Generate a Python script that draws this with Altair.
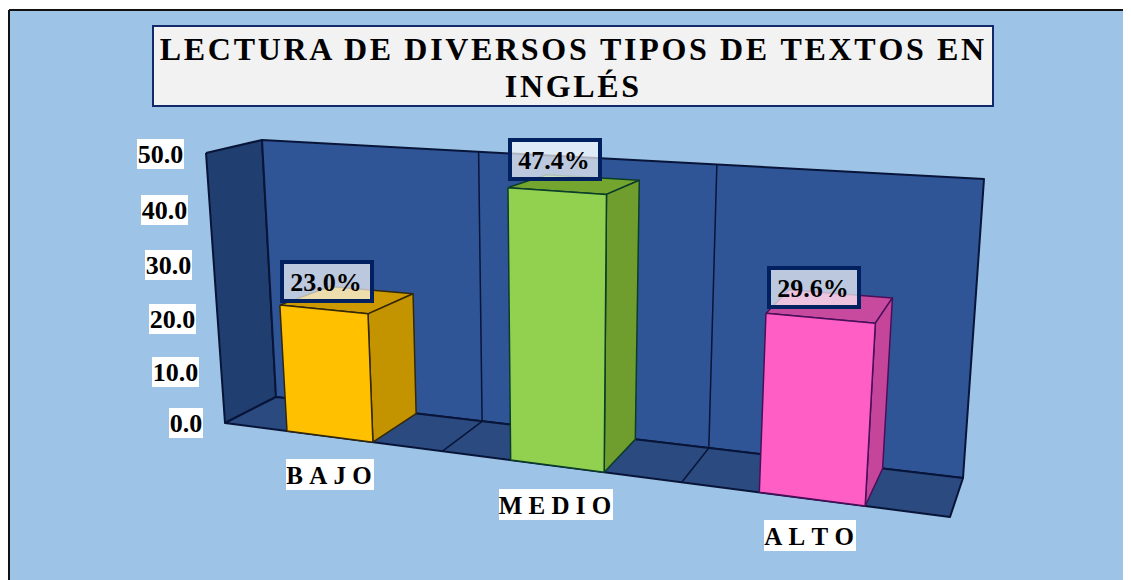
import altair as alt

HAIR = "\u200a"


def spaced(text, letter_gap, word_gap):
    words = text.split(" ")
    return word_gap.join((HAIR * letter_gap).join(w) for w in words)


# ---- chart content -------------------------------------------------
TITLE_LINES = ["LECTURA DE DIVERSOS TIPOS DE TEXTOS EN", "INGLÉS"]
CATEGORIES = ["BAJO", "MEDIO", "ALTO"]
VALUES = [23.0, 47.4, 29.6]
TICKS = [0, 10, 20, 30, 40, 50]
AXIS_MAX = 50.0

# ---- bar colours ---------------------------------------------------
FRONT = ["#ffc000", "#92d050", "#ff5ec4"]
SIDE = ["#c49400", "#6f9d2e", "#c4459a"]
TOP = ["#cc9a00", "#74a52f", "#c74a9f"]
EDGE = ["#33280a", "#0a3d2a", "#4a0f5a"]

# ---- layout of the perspective box, in page pixels -----------------
W, H = 1115, 572
FLOOR_FRONT = ((225, 423), (950, 517))
FLOOR_BACK = ((276, 397), (963, 478))
CEIL_FRONT = ((206, 153), (972, 203))
CEIL_BACK = ((262, 140), (984, 179))
BAR_U = [(0.0855, 0.204), (0.394, 0.523), (0.737, 0.883)]
DIVIDERS_U = [0.30, 0.63]


def lerp(a, b, t):
    return (a[0] + (b[0] - a[0]) * t, a[1] + (b[1] - a[1]) * t)


def project(u, d, v):
    """u along the categories, d in depth, v as data value."""
    base = lerp(lerp(*FLOOR_FRONT, u), lerp(*FLOOR_BACK, u), d)
    ceil = lerp(lerp(*CEIL_FRONT, u), lerp(*CEIL_BACK, u), d)
    return lerp(base, ceil, v / AXIS_MAX * (1 - 0.02 * d))


X = dict(field="x", type="quantitative",
         scale=alt.Scale(domain=[8, 8 + W], nice=False, zero=False), axis=None)
Y = dict(field="y", type="quantitative",
         scale=alt.Scale(domain=[8 + H, 8], nice=False, zero=False), axis=None)


def poly(points, fill, stroke, width=1.5):
    pts = list(points) + [points[0]]
    rows = [{"x": p[0], "y": p[1], "i": i} for i, p in enumerate(pts)]
    return alt.Chart(alt.Data(values=rows)).mark_line(
        fill=fill, stroke=stroke, strokeWidth=width, strokeJoin="round", clip=False
    ).encode(x=alt.X(**X), y=alt.Y(**Y), order=alt.Order("i:Q"))


def seg(a, b, stroke, width=1.5):
    rows = [{"x": a[0], "y": a[1], "i": 0}, {"x": b[0], "y": b[1], "i": 1}]
    return alt.Chart(alt.Data(values=rows)).mark_line(
        stroke=stroke, strokeWidth=width
    ).encode(x=alt.X(**X), y=alt.Y(**Y), order=alt.Order("i:Q"))


def box(x0, x1, y0, y1, fill, stroke=None, sw=0, fo=1.0):
    kw = dict(fill=fill, fillOpacity=fo)
    if stroke:
        kw.update(stroke=stroke, strokeWidth=sw)
    return alt.Chart(alt.Data(values=[{"x": x0, "x2": x1, "y": y0, "y2": y1}])).mark_rect(**kw).encode(
        x=alt.X(**X), x2="x2:Q", y=alt.Y(**Y), y2="y2:Q")


def label(x, y, text, size=26):
    return alt.Chart(alt.Data(values=[{"x": x, "y": y, "t": text}])).mark_text(
        font="Liberation Serif", fontWeight="bold", fontSize=size, color="black",
        align="center", baseline="middle"
    ).encode(x=alt.X(**X), y=alt.Y(**Y), text="t:N")


layers = []
# chart area and frame
layers.append(poly([(9, 10), (1145, 10), (1145, 595), (9, 595)], "#9dc3e6", "#111111", 2))
# title
layers.append(box(153, 993, 26, 106, "#f2f2f2", "#12296b", 2))
WORD_GAP = " " + HAIR * 2
layers.append(label(572, 50, spaced(TITLE_LINES[0], 1, WORD_GAP), 32))
layers.append(label(572, 87, spaced(TITLE_LINES[1], 1, WORD_GAP), 32))

# walls and floor
WALL_LINE = "#081538"
layers.append(poly([project(0, 0, AXIS_MAX), project(0, 1, AXIS_MAX / 0.98), project(0, 1, 0), project(0, 0, 0)], "#203e70", WALL_LINE, 2))
layers.append(poly([project(0, 1, AXIS_MAX / 0.98), project(1, 1, AXIS_MAX / 0.98), project(1, 1, 0), project(0, 1, 0)], "#2f5597", WALL_LINE, 2))
layers.append(poly([project(0, 0, 0), project(0, 1, 0), project(1, 1, 0), project(1, 0, 0)], "#2a4a80", WALL_LINE, 2))
for u in DIVIDERS_U:
    layers.append(seg(project(u, 1, AXIS_MAX / 0.98), project(u, 1, 0), WALL_LINE))
    layers.append(seg(project(u, 1, 0), project(u, 0, 0), WALL_LINE))

# bars
for i, v in enumerate(VALUES):
    u0, u1 = BAR_U[i]
    layers.append(poly([project(u0, 0, v), project(u0, 1, v), project(u1, 1, v), project(u1, 0, v)], TOP[i], EDGE[i]))
    layers.append(poly([project(u1, 0, v), project(u1, 1, v), project(u1, 1, 0), project(u1, 0, 0)], SIDE[i], EDGE[i]))
    layers.append(poly([project(u0, 0, v), project(u1, 0, v), project(u1, 0, 0), project(u0, 0, 0)], FRONT[i], EDGE[i]))

# value labels
LABEL_BOX = [(282, 372, 262, 301), (510, 600, 140, 179), (769, 859, 268, 307)]
for (x0, x1, y0, y1), v in zip(LABEL_BOX, VALUES):
    layers.append(box(x0, x1, y0, y1, "white", "#002060", 4, 0.68))
    layers.append(label((x0 + x1) / 2 - 1, (y0 + y1) / 2 + 1, f"{v:.1f}%"))

# value axis
TICK_BOX = [(169, 203, 408, 438), (152, 199, 357, 387), (149, 196, 304, 334),
            (145, 192, 250, 280), (141, 188, 195, 225), (137, 184, 139, 169)]
for (x0, x1, y0, y1), t in zip(TICK_BOX, TICKS):
    layers.append(box(x0, x1, y0, y1, "white"))
    layers.append(label((x0 + x1) / 2, (y0 + y1) / 2 + 1, f"{t:.1f}"))

# category axis
CAT_BOX = [(286, 374, 459, 490), (499, 613, 489, 520), (764, 856, 520, 551)]
for (x0, x1, y0, y1), c in zip(CAT_BOX, CATEGORIES):
    layers.append(box(x0, x1, y0, y1, "white"))
    layers.append(label((x0 + x1) / 2 - 1, (y0 + y1) / 2 + 1, (HAIR * 3).join(c), 25))

chart = alt.layer(*layers).properties(
    width=W, height=H, padding=0, autosize=alt.AutoSizeParams(type="none"),
    background="white"
).configure_view(stroke=None)

chart.save("out.html", embed_options={"renderer": "svg", "actions": False})
